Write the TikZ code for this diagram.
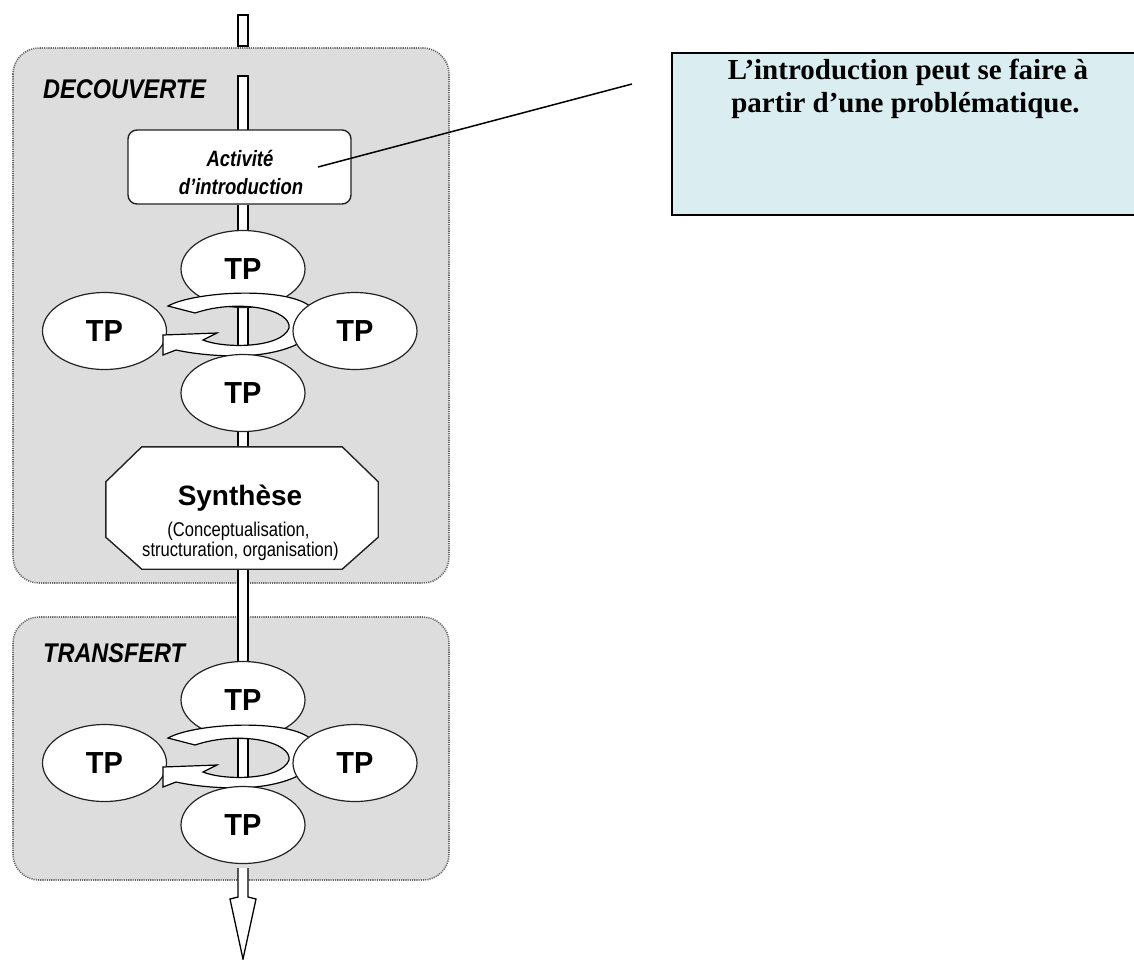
\documentclass[tikz,border=0pt]{standalone}
\usepackage{fontspec}
\usepackage{graphicx}
\setmainfont{Liberation Sans}
\newfontfamily\notefont{Liberation Serif}
\usetikzlibrary{calc,shapes.geometric}

\pgfdeclarelayer{back}
\pgfdeclarelayer{pipes}
\pgfsetlayers{back,pipes,main}

\definecolor{phasegray}{RGB}{221,221,221}
\definecolor{dotgray}{RGB}{100,100,100}
\definecolor{notecyan}{RGB}{218,238,241}
\definecolor{outline}{RGB}{35,35,35}

\tikzset{
  phase/.style={fill=phasegray, draw=dotgray, line width=1.6pt,
    dash pattern=on 1.1pt off 1.1pt, rounded corners=26pt},
  phaselabel/.style={anchor=west, inner sep=0pt,
    font=\fontsize{23.5}{23.5}\selectfont\bfseries\itshape},
  pipe/.style={draw=black, line width=1.3pt, double=white, double distance=8.7pt},
  pipebox/.style={draw=black, fill=white, line width=1.3pt},
  tp/.style={ellipse, draw=outline, fill=white, line width=1.2pt,
    minimum width=124pt, minimum height=77pt, inner sep=0pt,
    font=\fontsize{29}{29}\selectfont\bfseries},
  actbox/.style={draw=outline, fill=white, line width=1.4pt, rounded corners=9pt,
    minimum width=223pt, minimum height=74pt, inner sep=0pt},
  acttext/.style={anchor=base, inner sep=0pt,
    font=\fontsize{18.5}{18.5}\selectfont\bfseries\itshape},
  synbox/.style={draw=outline, fill=white, line width=1.4pt},
  syntitle/.style={anchor=base, inner sep=0pt,
    font=\fontsize{28}{28}\selectfont\bfseries},
  synsub/.style={anchor=base, inner sep=0pt,
    font=\fontsize{16.6}{16.6}\selectfont},
  cyclearrow/.style={draw=black, fill=white, line width=1.2pt, line join=miter},
  note/.style={draw=black, fill=notecyan, line width=1.5pt,
    minimum width=466pt, minimum height=162pt, inner sep=0pt},
  notetext/.style={anchor=base, inner sep=0pt,
    font=\notefont\fontsize{29}{31}\selectfont\bfseries},
  pointer/.style={draw=black, line width=1.5pt}
}

% curved arrow turning round the four TP of one group
\newcommand\tpcycle[1]{%
  \begin{scope}[shift={(0,#1)}]
    \filldraw[cyclearrow] (168,306)
      .. controls (195,291) and (290,286) .. (312,308)
      .. controls (330,330) and (300,354) .. (240,356)
      .. controls (210,356) and (190,353) .. (176,350)
      -- (163,355) -- (163,335) -- (217,333) -- (203,340)
      .. controls (225,349) and (282,348) .. (289,328)
      .. controls (292,310) and (240,298) .. (195,313)
      -- cycle;
  \end{scope}}

\begin{document}
\begin{tikzpicture}[x=1pt,y=-1pt]
\useasboundingbox (0,0) rectangle (1134,959);

% phases
\begin{pgfonlayer}{back}
  \draw[phase] (13,48) rectangle (449,583);
  \draw[phase] (13,617) rectangle (449,880);
\end{pgfonlayer}
\node[phaselabel] (lbldec) at (43,89.5) {\scalebox{1}[1.15]{DECOUVERTE}};
\node[phaselabel] (lbltra) at (43,653) {\scalebox{1}[1.15]{TRANSFERT}};

% introduction activity
\node[actbox] (act) at (239.5,167) {};
\node[acttext] (act1) at (240,166) {\scalebox{1}[1.2]{Activité}};
\node[acttext] (act2) at (241,194) {\scalebox{1}[1.2]{d’introduction}};

% first group of TP
\node[tp] (d1) at (243,269) {\scalebox{1}[1.05]{TP}};
\node[tp] (d2) at (104.5,331) {\scalebox{1}[1.05]{TP}};
\tpcycle{0}
\node[tp] (d3) at (355,331) {\scalebox{1}[1.05]{TP}};
\node[tp] (d4) at (243,393) {\scalebox{1}[1.05]{TP}};

% synthesis
\node[minimum width=272pt, minimum height=122pt, inner sep=0pt] (syn) at (242,508) {};
\filldraw[synbox] ($(syn.north west)+(36,0)$) -- ($(syn.north east)+(-36,0)$)
  -- ($(syn.north east)+(0,35)$) -- ($(syn.south east)+(0,-32)$)
  -- ($(syn.south east)+(-36,0)$) -- ($(syn.south west)+(36,0)$)
  -- ($(syn.south west)+(0,-32)$) -- ($(syn.north west)+(0,35)$) -- cycle;
\node[syntitle] (syn1) at (240,505) {Synthèse};
\node[synsub] (syn2) at (238.5,536) {\scalebox{1}[1.2]{(Conceptualisation,}};
\node[synsub] (syn3) at (240.5,556) {\scalebox{1}[1.2]{structuration, organisation)}};

% second group of TP
\node[tp] (t1) at (243,700) {\scalebox{1}[1.05]{TP}};
\node[tp] (t2) at (104.5,763) {\scalebox{1}[1.05]{TP}};
\tpcycle{432}
\node[tp] (t3) at (355,763) {\scalebox{1}[1.05]{TP}};
\node[tp] (t4) at (243,825) {\scalebox{1}[1.05]{TP}};

% the main flow
\coordinate (tip) at (243,959);
\begin{pgfonlayer}{pipes}
  \draw[pipebox] (238,15) rectangle (248,46);
  \draw[pipebox] (238,76) rectangle (248,140);
  \draw[pipe] (act.south -| d1) -- (d1.north);
  \draw[pipe] (d1) -- (d4);
  \draw[pipe] (d4) -- (syn.north -| d4);
  \draw[pipe] (syn.south -| t1) -- (t1);
  \draw[pipe] (t1) -- (t4);
  \draw[pipebox] ($(t4.south)+(-5,4)$) -- (238,897) -- (230,899) -- (tip)
    -- (256,899) -- (248,897) -- ($(t4.south)+(5,4)$);
\end{pgfonlayer}

% comment box
\node[note] (note) at (905,134) {};
\node[notetext] (n1) at (908,79) {L’introduction peut se faire à};
\node[notetext] (n2) at (905.5,112) {partir d’une problématique.};
\coordinate (ptrA) at (318,167);
\coordinate (ptrB) at (632,84);
\draw[pointer] (ptrA) -- (ptrB);
\end{tikzpicture}
\end{document}
